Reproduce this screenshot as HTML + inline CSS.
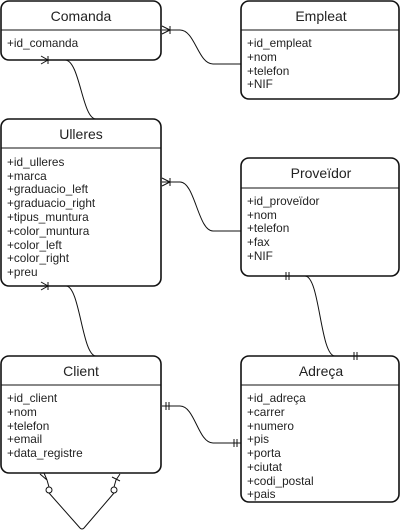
<!DOCTYPE html>
<html><head><meta charset="utf-8"><style>
html,body{margin:0;padding:0;background:#fff;}
svg{display:block;}
text{font-family:"Liberation Sans",sans-serif;fill:#222;}
.t{font-size:14px;text-anchor:middle;}
.i{font-size:11.8px;}
.b{fill:#fff;stroke:#111;stroke-width:1.6;}
.l{fill:none;stroke:#111;stroke-width:1;}
</style></head><body>
<svg width="400" height="530" viewBox="0 0 400 530" xmlns="http://www.w3.org/2000/svg">
<!-- Comanda -->
<rect class="b" x="1" y="1" width="160" height="59" rx="8"/>
<line class="l" x1="1" y1="30" x2="161" y2="30" stroke-width="1.6"/>
<text class="t" x="81" y="21">Comanda</text>
<text class="i" x="7" y="47">+id_comanda</text>
<!-- Empleat -->
<rect class="b" x="241" y="1" width="158" height="98" rx="8"/>
<line class="l" x1="241" y1="30" x2="399" y2="30" stroke-width="1.6"/>
<text class="t" x="321" y="21">Empleat</text>
<text class="i" x="247" y="47">+id_empleat</text>
<text class="i" x="247" y="61">+nom</text>
<text class="i" x="247" y="75">+telefon</text>
<text class="i" x="247" y="88">+NIF</text>
<!-- Ulleres -->
<rect class="b" x="1" y="119" width="160" height="167" rx="8"/>
<line class="l" x1="1" y1="148" x2="161" y2="148" stroke-width="1.6"/>
<text class="t" x="81" y="139">Ulleres</text>
<text class="i" x="7" y="166">+id_ulleres</text>
<text class="i" x="7" y="180">+marca</text>
<text class="i" x="7" y="193">+graduacio_left</text>
<text class="i" x="7" y="207">+graduacio_right</text>
<text class="i" x="7" y="221">+tipus_muntura</text>
<text class="i" x="7" y="235">+color_muntura</text>
<text class="i" x="7" y="249">+color_left</text>
<text class="i" x="7" y="262">+color_right</text>
<text class="i" x="7" y="276">+preu</text>
<!-- Proveidor -->
<rect class="b" x="241" y="158" width="158" height="118" rx="8"/>
<line class="l" x1="241" y1="188" x2="399" y2="188" stroke-width="1.6"/>
<text class="t" x="321" y="178">Proveïdor</text>
<text class="i" x="247" y="205">+id_proveïdor</text>
<text class="i" x="247" y="219">+nom</text>
<text class="i" x="247" y="232">+telefon</text>
<text class="i" x="247" y="246">+fax</text>
<text class="i" x="247" y="260">+NIF</text>
<!-- Client -->
<rect class="b" x="1" y="356" width="160" height="117" rx="8"/>
<line class="l" x1="1" y1="385" x2="161" y2="385" stroke-width="1.6"/>
<text class="t" x="81" y="376">Client</text>
<text class="i" x="7" y="402">+id_client</text>
<text class="i" x="7" y="416">+nom</text>
<text class="i" x="7" y="430">+telefon</text>
<text class="i" x="7" y="443">+email</text>
<text class="i" x="7" y="457">+data_registre</text>
<!-- Adreça -->
<rect class="b" x="241" y="356" width="158" height="146" rx="8"/>
<line class="l" x1="241" y1="385" x2="399" y2="385" stroke-width="1.6"/>
<text class="t" x="321" y="376">Adreça</text>
<text class="i" x="247" y="402">+id_adreça</text>
<text class="i" x="247" y="416">+carrer</text>
<text class="i" x="247" y="430">+numero</text>
<text class="i" x="247" y="443">+pis</text>
<text class="i" x="247" y="457">+porta</text>
<text class="i" x="247" y="471">+ciutat</text>
<text class="i" x="247" y="485">+codi_postal</text>
<text class="i" x="247" y="498">+pais</text>

<!-- connectors -->
<path class="l" d="M162,30 H180 C195,30 198,64 213,64 H241"/>
<path class="l" d="M162,26 L170,30 L162,34 M170,26 V34"/>
<path class="l" d="M40,60 H65 C80,60 82,119 96,119"/>
<path class="l" d="M41,56 L48,60 L41,64 M48,56 V64"/>
<path class="l" d="M162,182 H180 C195,182 198,231 213,231 H241"/>
<path class="l" d="M162,178 L170,182 L162,186 M170,178 V186"/>
<path class="l" d="M40,286 H66 C80,286 82,356 96,356"/>
<path class="l" d="M41,282 L48,286 L41,290 M48,282 V290"/>
<path class="l" d="M280,276 H305 C320,276 320,356 335,356 H360"/>
<path class="l" d="M286,272 V280 M289,272 V280 M354,352 V360 M357,352 V360"/>
<path class="l" d="M162,406 H180 C195,406 198,443 213,443 H241"/>
<path class="l" d="M166,402 V410 M169,402 V410 M234,439 V447 M237,439 V447"/>
<path class="l" d="M49,493 L80,528 Q82,530 84,528 L114,493"/>
<path class="l" d="M40,474 L47,480 L44,473 M47,480 L49,487 M120,474 L116,480 M112,477 L120,481 M116,480 L114,487"/>
<circle class="l" cx="49" cy="490" r="3" fill="#fff"/>
<circle class="l" cx="114" cy="490" r="3" fill="#fff"/>
</svg>
</body></html>
